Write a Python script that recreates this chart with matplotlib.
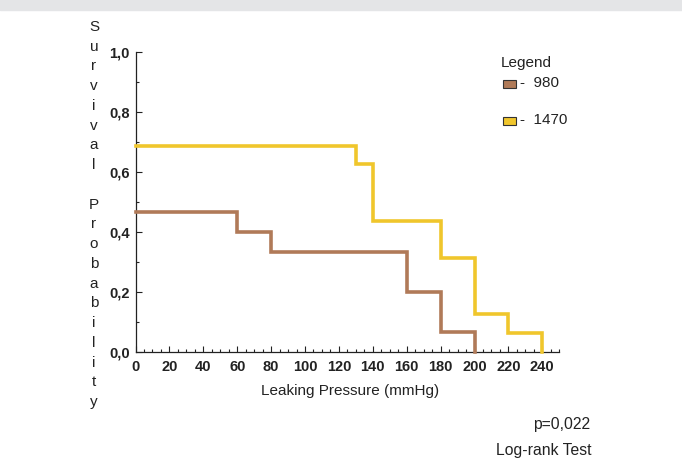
import matplotlib
matplotlib.use("Agg")
import matplotlib.pyplot as plt
from matplotlib.patches import Rectangle
from matplotlib.ticker import MultipleLocator, FuncFormatter

plt.rcParams['font.family'] = ['Liberation Sans', 'DejaVu Sans']

# Data (Kaplan-Meier step curves)
x_980 = [0, 60, 80, 160, 180, 200]
s_980 = [0.4667, 0.4, 0.3333, 0.2, 0.0667, 0.0]
x_1470 = [0, 130, 140, 180, 200, 220, 240]
s_1470 = [0.6875, 0.625, 0.4375, 0.3125, 0.125, 0.0625, 0.0]
series_labels = ['980', '1470']
colors = ['#b07a58', '#f0c62c']

W, H = 682, 459
fig = plt.figure(figsize=(W / 100, H / 100), dpi=100)
fig.patches.append(Rectangle((0, 1 - 10 / H), 1, 10 / H, transform=fig.transFigure,
                             color='#e4e5e7', zorder=0))

# axes: x 0 -> px 135.5, 240 -> px 542.3 ; y 0 -> px 352, 1 -> px 51.7
px_per_unit = (542.3 - 135.5) / 240
x_right = 250
left = 135.5 / W
right_px = 135.5 + x_right * px_per_unit
bottom = 1 - 352 / H
top = 1 - 51.7 / H
ax = fig.add_axes([left, bottom, (right_px - 135.5) / W, top - bottom])

def step_xy(xs, ys):
    X, Y = [], []
    for i in range(len(xs)):
        if i > 0:
            X.append(xs[i]); Y.append(ys[i - 1])
        X.append(xs[i]); Y.append(ys[i])
    return X, Y

X, Y = step_xy(x_980, s_980)
ax.plot(X, Y, color=colors[0], lw=2.6, solid_joinstyle='miter', clip_on=False, zorder=3)
X, Y = step_xy(x_1470, s_1470)
ax.plot(X, Y, color=colors[1], lw=2.6, solid_joinstyle='miter', clip_on=False, zorder=3)

ax.set_xlim(0, x_right)
ax.set_ylim(0, 1.0)
for s in ['top', 'right']:
    ax.spines[s].set_visible(False)
for s in ['left', 'bottom']:
    ax.spines[s].set_linewidth(0.9)
    ax.spines[s].set_color('#222222')

ax.xaxis.set_minor_locator(MultipleLocator(5))
ax.yaxis.set_major_locator(MultipleLocator(0.2))
ax.yaxis.set_minor_locator(MultipleLocator(0.1))
ax.set_xticks(range(0, 241, 20))
ax.yaxis.set_major_formatter(FuncFormatter(lambda v, p: f"{v:.1f}".replace('.', ',')))
ax.tick_params(which='both', direction='in', color='#222222', width=0.8)
ax.tick_params(which='major', length=4)
ax.tick_params(which='minor', length=2.5)
ax.tick_params(axis='x', labelsize=10.5, pad=6)
ax.tick_params(axis='y', labelsize=10.5, pad=4)
for lab in ax.get_xticklabels() + ax.get_yticklabels():
    lab.set_fontweight('bold')
    lab.set_color('#222222')

# x label
fig.text(350 / W, 1 - 391 / H, 'Leaking Pressure (mmHg)', ha='center', va='center',
         fontsize=11, color='#222222')

# vertical stacked y label
ylabel_letters = ['S', 'u', 'r', 'v', 'i', 'v', 'a', 'l', '', 'P', 'r', 'o', 'b', 'a',
                  'b', 'i', 'l', 'i', 't', 'y']
y0, y1 = 27, 402
step = (y1 - y0) / (len(ylabel_letters) - 1)
for i, ch in enumerate(ylabel_letters):
    if ch:
        fig.text(94 / W, 1 - (y0 + i * step) / H, ch, ha='center', va='center',
                 fontsize=11, color='#222222')

# legend
fig.text(501 / W, 1 - 63 / H, 'Legend', ha='left', va='center', fontsize=11, color='#222222')
for i, (lab, c) in enumerate(zip(series_labels, colors)):
    yc = 84 + i * 37
    fig.patches.append(Rectangle((503 / W, 1 - (yc + 4) / H), 13 / W, 8 / H,
                                 transform=fig.transFigure, facecolor=c,
                                 edgecolor='#333333', lw=0.8))
    fig.text(520 / W, 1 - (yc - 1) / H, '-  ' + lab, ha='left', va='center',
             fontsize=11, color='#222222')

fig.text(590 / W, 1 - 425 / H, 'p=0,022', ha='right', va='center', fontsize=11.3, color='#222222')
fig.text(592 / W, 1 - 451 / H, 'Log-rank Test', ha='right', va='center', fontsize=11.3, color='#222222')

fig.savefig('out.png', dpi=100)
